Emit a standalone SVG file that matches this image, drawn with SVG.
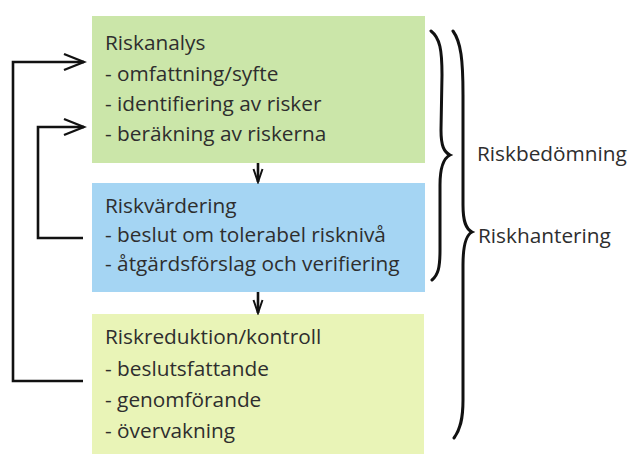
<svg xmlns="http://www.w3.org/2000/svg" width="633" height="454" viewBox="0 0 633 454">
<style>
text{font-family:"Open Sans","Noto Sans",sans-serif;font-size:20.8px;fill:#2e2e2e}
.conn{fill:none;stroke:#111;stroke-width:2.6}
.brace{fill:none;stroke:#111;stroke-width:3;stroke-linecap:round}
</style>
<defs>
<marker id="open" markerUnits="userSpaceOnUse" markerWidth="24" markerHeight="22" refX="21" refY="10" orient="auto">
<path d="M1,2 L21,10 L1,18" fill="none" stroke="#111" stroke-width="2.4"/>
</marker>
<marker id="small" markerUnits="userSpaceOnUse" markerWidth="16" markerHeight="14" refX="14" refY="6" orient="auto">
<path d="M1,1.5 L14,6 L1,10.5" fill="none" stroke="#111" stroke-width="2"/>
</marker>
</defs>
<rect width="633" height="454" fill="#ffffff"/>
<g id="riskanalys">
<rect x="92" y="16" width="333" height="147" fill="#cbe6a9"/>
<text x="105" y="50">Riskanalys</text>
<text x="105" y="81">- omfattning/syfte</text>
<text x="105" y="111">- identifiering av risker</text>
<text x="105" y="141">- beräkning av riskerna</text>
</g>
<g id="riskvardering">
<rect x="92" y="183" width="333" height="109" fill="#a5d5f3"/>
<text x="105" y="213">Riskvärdering</text>
<text x="105" y="242">- beslut om tolerabel risknivå</text>
<text x="105" y="271">- åtgärdsförslag och verifiering</text>
</g>
<g id="riskreduktion">
<rect x="92" y="314" width="332" height="140" fill="#e9f4b7"/>
<text x="105" y="344">Riskreduktion/kontroll</text>
<text x="105" y="376">- beslutsfattande</text>
<text x="105" y="407">- genomförande</text>
<text x="105" y="438">- övervakning</text>
</g>
<g id="riskbedomning">
<path class="brace" d="M431,31 C440,38 442,50 442,75 L441,130 C441,146 444,152 450,155 C444,158 440,166 440,185 L440,250 C440,268 438,275 432,280"/>
<text x="477" y="161">Riskbedömning</text>
</g>
<g id="riskhantering">
<path class="brace" d="M453,31 C461,42 463,60 463,95 L463,205 C463,222 466,229 472,232 C466,235 463,244 463,265 L463,400 C463,420 460,430 454,438"/>
<text x="478" y="243">Riskhantering</text>
</g>
<g id="connectors">
<path class="conn" d="M83,381 H13 V62 H84" marker-end="url(#open)"/>
<path class="conn" d="M83,238 H38 V127 H84" marker-end="url(#open)"/>
<path class="conn" d="M258,163 V182" marker-end="url(#small)"/>
<path class="conn" d="M258,292 V313" marker-end="url(#small)"/>
</g>
</svg>
